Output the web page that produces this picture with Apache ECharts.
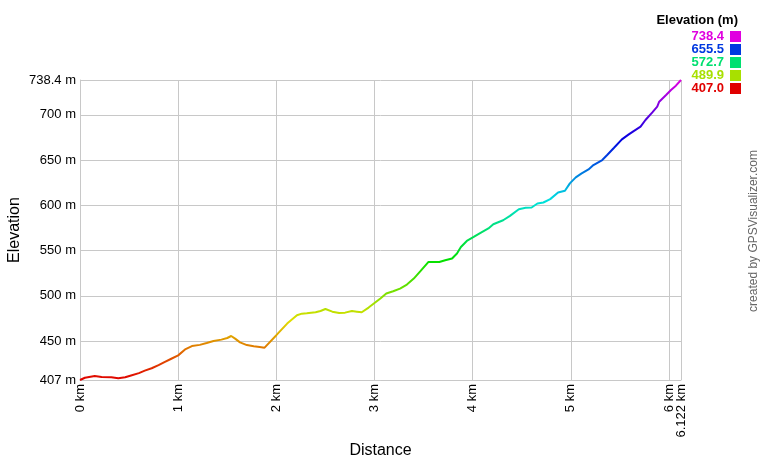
<!DOCTYPE html>
<html><head><meta charset="utf-8">
<script src="https://cdn.jsdelivr.net/npm/echarts@6/dist/echarts.min.js"></script>
<style>html,body{margin:0;padding:0;background:#fff}#c{width:760px;height:460px}</style>
</head><body><div id="c"></div>
<script>
var distanceKm = [0, 0.05, 0.15, 0.22, 0.32, 0.39, 0.46, 0.52, 0.60, 0.66, 0.73, 0.80, 0.86, 0.93, 1.00, 1.07, 1.14, 1.22, 1.29, 1.36, 1.44, 1.50, 1.54, 1.58, 1.63, 1.70, 1.77, 1.83, 1.88, 2.00, 2.11, 2.21, 2.26, 2.31, 2.40, 2.45, 2.50, 2.57, 2.64, 2.70, 2.77, 2.82, 2.87, 2.94, 3.01, 3.06, 3.12, 3.19, 3.26, 3.33, 3.40, 3.47, 3.55, 3.66, 3.72, 3.79, 3.84, 3.88, 3.94, 4.01, 4.08, 4.16, 4.21, 4.31, 4.38, 4.47, 4.54, 4.60, 4.66, 4.72, 4.79, 4.87, 4.94, 4.99, 5.05, 5.11, 5.18, 5.23, 5.32, 5.37, 5.44, 5.52, 5.59, 5.64, 5.71, 5.76, 5.83, 5.88, 5.90, 5.97, 6.02, 6.07, 6.122];
var elevationM = [407, 409.5, 411.3, 410.2, 410, 409, 410, 412, 414.6, 417.3, 420, 423.5, 426.8, 430.5, 434.2, 440.8, 444.5, 445.8, 447.8, 450, 451.6, 453.4, 455.6, 452.7, 448.6, 445.6, 444.2, 443.4, 442.7, 456.5, 469.3, 478.5, 480.3, 480.7, 481.8, 483.2, 485.4, 482.5, 481, 481.4, 483.2, 482.5, 481.8, 487, 492.8, 497, 502.5, 505, 508, 512.4, 519, 527.5, 537.4, 537.4, 539.3, 541.2, 546.7, 554, 560.6, 565, 569.5, 574.4, 579, 583.5, 588.3, 595.7, 597.2, 597.6, 602, 603.1, 606.8, 614.2, 616, 624.2, 630.8, 635.2, 639.6, 644.4, 650, 655.5, 663.5, 672.8, 678.3, 682, 686.8, 694.2, 702.7, 708.9, 714.4, 721.8, 727.4, 732.1, 738.4];
var xTicks = [0, 1, 2, 3, 4, 5, 6];
var xEndTick = [6.122];
var yTicks = [407, 450, 500, 550, 600, 650, 700, 738.4];
var legendValues = [738.4, 655.5, 572.7, 489.9, 407.0];
var elevMin = 407, elevMax = 738.4;

var FONT = 'Arial, "Liberation Sans", sans-serif';
function hueColor(h) {
  var V = 224, c = function (x) { return Math.round(x); };
  var s = (h % 360) / 60, i = Math.floor(s), f = s - i, r, g, b;
  var p = 0, q = V * (1 - f), t = V * f;
  switch (i) {
    case 0: r = V; g = t; b = p; break;
    case 1: r = q; g = V; b = p; break;
    case 2: r = p; g = V; b = t; break;
    case 3: r = p; g = q; b = V; break;
    case 4: r = t; g = p; b = V; break;
    default: r = V; g = p; b = q;
  }
  return 'rgb(' + c(r) + ',' + c(g) + ',' + c(b) + ')';
}
function colorFor(v) { return hueColor(300 * (v - elevMin) / (elevMax - elevMin)); }
var stops = [];
for (var k = 0; k <= 30; k++) stops.push(hueColor(300 * k / 30));

var pts = distanceKm.map(function (d, i) { return [d, elevationM[i]]; });
var xMax = xEndTick[0];

var graphics = [
  { type: 'text', right: 22, top: 14, style: { text: 'Elevation (m)', font: 'bold 13px ' + FONT, fill: '#000' } }
];
legendValues.forEach(function (v, i) {
  var y = 31 + i * 13;
  graphics.push({ type: 'text', right: 36, top: y - 1, style: { text: v.toFixed(1), font: 'bold 13px ' + FONT, fill: colorFor(v) } });
  graphics.push({ type: 'rect', shape: { x: 730, y: y, width: 11, height: 11 }, style: { fill: colorFor(v) } });
});
graphics.push({ type: 'text', x: 754, y: 231, rotation: Math.PI / 2,
  style: { text: 'created by GPSVisualizer.com', font: '12px ' + FONT, fill: '#666', align: 'center', verticalAlign: 'middle' } });

var grid = '#c8c8c8';
var lbl = { rotate: 90, margin: 4, fontFamily: FONT, fontSize: 13, color: '#000',
  hideOverlap: false, formatter: function (v) { return v + ' km'; } };
var chart = echarts.init(document.getElementById('c'), null, { renderer: 'canvas' });
chart.setOption({
  animation: false,
  backgroundColor: '#fff',
  grid: { left: 80, right: 79, top: 80, bottom: 80, containLabel: false, outerBoundsMode: 'none' },
  xAxis: [{
    type: 'value', min: 0, max: xMax, position: 'bottom',
    name: 'Distance', nameLocation: 'middle', nameGap: 63, nameMoveOverlap: false,
    nameTextStyle: { fontFamily: FONT, fontSize: 16, color: '#000' },
    axisLine: { lineStyle: { color: grid, width: 1 } },
    axisTick: { show: false, customValues: xTicks },
    axisLabel: Object.assign({ customValues: xTicks }, lbl),
    splitLine: { show: true, lineStyle: { color: grid, width: 1 } }
  }, {
    type: 'value', min: 0, max: xMax, position: 'bottom', offset: 0,
    axisLine: { show: false },
    axisTick: { show: false, customValues: xEndTick },
    axisLabel: Object.assign({ customValues: xEndTick }, lbl),
    splitLine: { show: true, lineStyle: { color: grid, width: 1 } }
  }],
  yAxis: {
    type: 'value', min: elevMin, max: elevMax,
    name: 'Elevation', nameLocation: 'middle', nameGap: 57, nameRotate: 90, nameMoveOverlap: false,
    nameTextStyle: { fontFamily: FONT, fontSize: 16, color: '#000' },
    axisLine: { show: true, lineStyle: { color: grid, width: 1 } },
    axisTick: { show: false, customValues: yTicks },
    axisLabel: { customValues: yTicks, margin: 4, fontFamily: FONT, fontSize: 13, color: '#000',
      hideOverlap: false, showMinLabel: true, showMaxLabel: true,
      formatter: function (v) { return v + ' m'; } },
    splitLine: { show: true, lineStyle: { color: grid, width: 1 } }
  },
  visualMap: { show: false, type: 'continuous', dimension: 1, min: elevMin, max: elevMax, inRange: { color: stops } },
  series: [{ type: 'line', data: pts, symbol: 'none', lineStyle: { width: 2 }, z: 3 }],
  graphic: graphics
});
</script></body></html>
